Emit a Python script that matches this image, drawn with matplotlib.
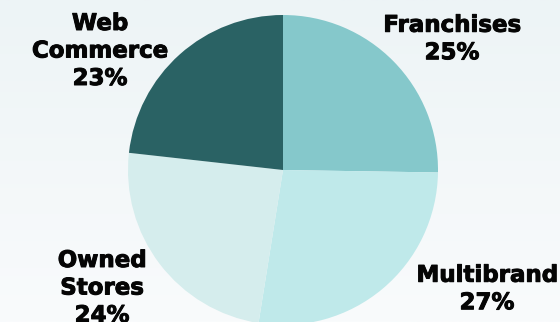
import numpy as np
import matplotlib.pyplot as plt
import matplotlib.patheffects as pe

# channel shares, clockwise from the top
channels = ["Franchises", "Multibrand", "Owned\nStores", "Web\nCommerce"]
shares = [25, 27, 24, 23]
colors = ["#85C8CB", "#BFE9EA", "#D5EDED", "#2A6264"]

fig = plt.figure(figsize=(5.6, 3.22), dpi=100)

# soft background gradient
bg = fig.add_axes([0, 0, 1, 1], zorder=0)
grad = np.linspace(0, 1, 256).reshape(-1, 1)
bg.imshow(grad, aspect="auto", cmap=plt.matplotlib.colors.LinearSegmentedColormap.from_list(
    "bg", ["#EDF4F6", "#F9FBFC"]), extent=[0, 1, 0, 1], origin="upper")
bg.axis("off")

ax = fig.add_axes([0, 0, 1, 1], zorder=1)
ax.patch.set_alpha(0)
ax.pie(shares, colors=colors, startangle=90, counterclock=False,
       radius=155, center=(283, 152), frame=True,
       wedgeprops=dict(linewidth=0))
ax.set_xlim(0, 560)
ax.set_ylim(0, 322)
ax.set_aspect("equal")
ax.axis("off")

font = dict(family=["DejaVu Sans"], fontweight="bold", fontsize=16.5,
            ha="center", va="center", linespacing=1.25, color="#050505",
            path_effects=[pe.withStroke(linewidth=0.7, foreground="#050505")])
label_xy = [(452, 283), (487, 33), (102, 34), (100, 271)]
for name, val, (x, y) in zip(channels, shares, label_xy):
    ax.text(x, y, f"{name}\n{val}%", **font)

fig.savefig("out.png", dpi=100)
